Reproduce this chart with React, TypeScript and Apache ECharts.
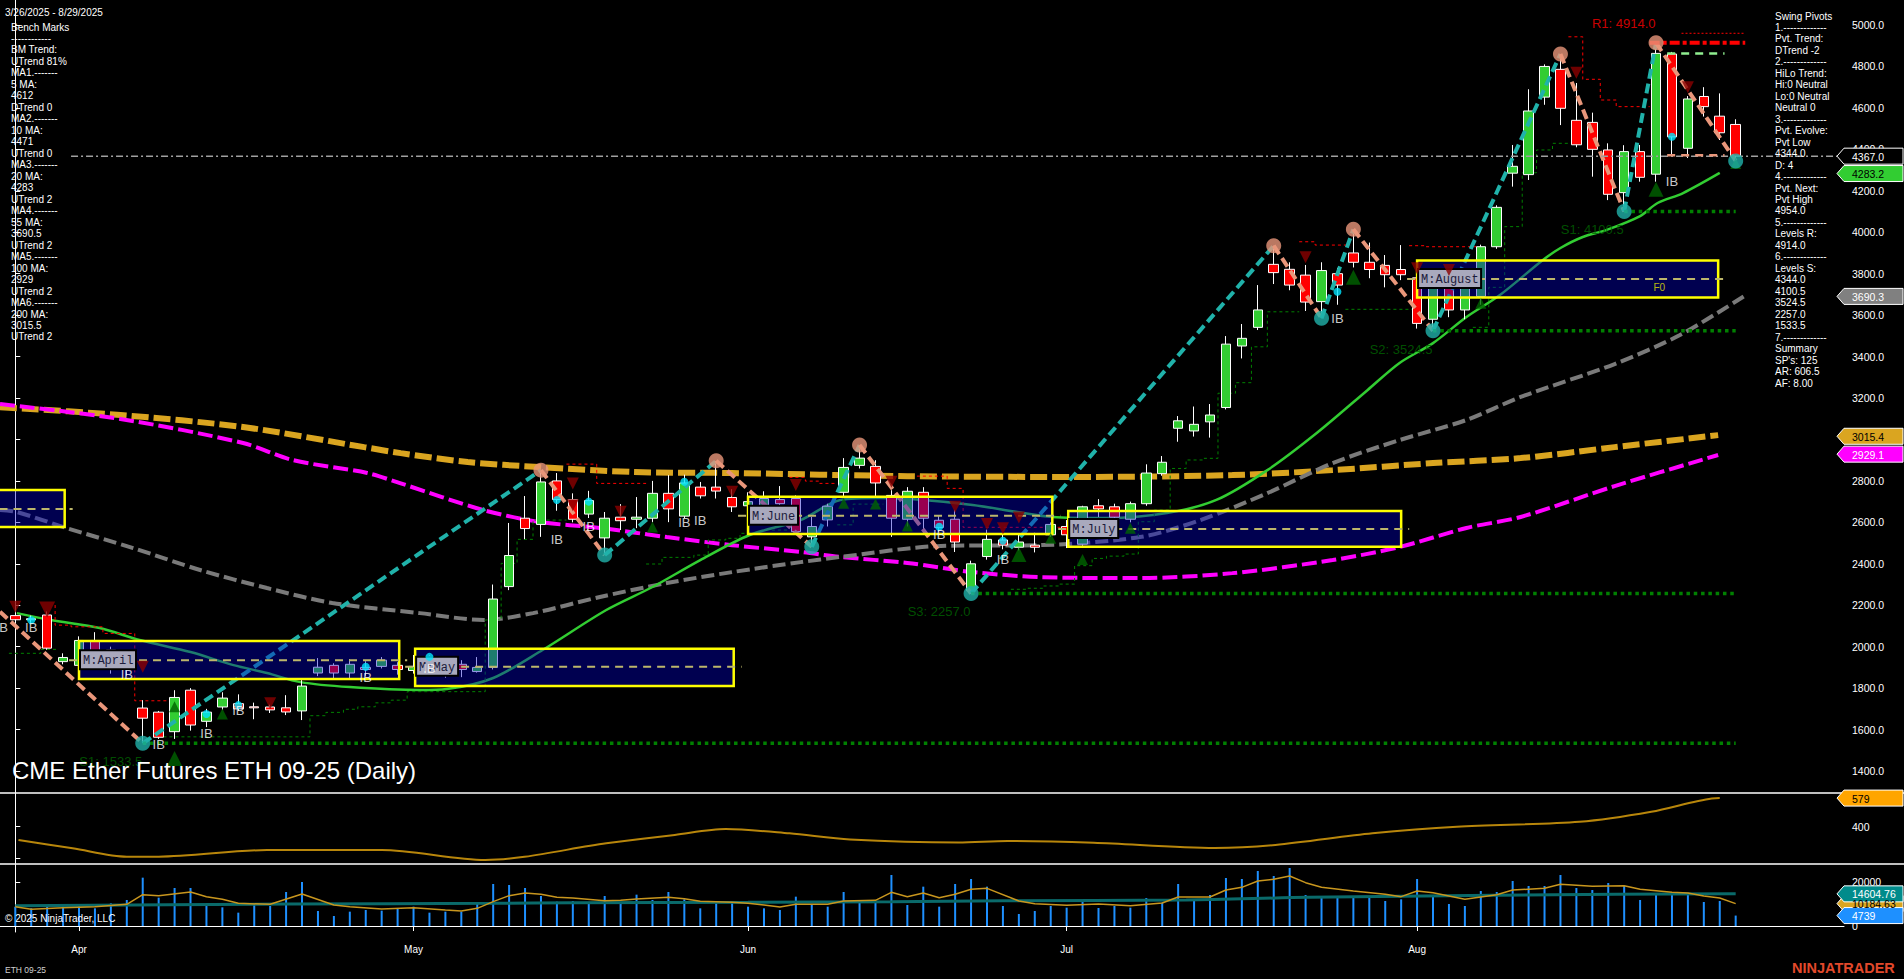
import React, { useEffect, useRef } from "react";
import * as echarts from "echarts";

// ---------- data ----------
const dates = [
  "03/26","03/27","03/28","03/31",
  "04/01","04/02","04/03","04/04","04/07","04/08","04/09","04/10","04/11","04/14","04/15","04/16","04/17","04/21","04/22","04/23","04/24","04/25","04/28","04/29","04/30",
  "05/01","05/02","05/05","05/06","05/07","05/08","05/09","05/12","05/13","05/14","05/15","05/16","05/19","05/20","05/21","05/22","05/23","05/27","05/28","05/29","05/30",
  "06/02","06/03","06/04","06/05","06/06","06/09","06/10","06/11","06/12","06/13","06/16","06/17","06/18","06/20","06/23","06/24","06/25","06/26","06/27","06/30",
  "07/01","07/02","07/03","07/07","07/08","07/09","07/10","07/11","07/14","07/15","07/16","07/17","07/18","07/21","07/22","07/23","07/24","07/25","07/28","07/29","07/30","07/31",
  "08/01","08/04","08/05","08/06","08/07","08/08","08/11","08/12","08/13","08/14","08/15","08/18","08/19","08/20","08/21","08/22","08/25","08/26","08/27","08/28","08/29"
];
const monthNames: Record<number, string> = { 4: "Apr", 5: "May", 6: "Jun", 7: "Jul", 8: "Aug" };

const opens = [2150,2130,2153,1928,1910,2030,1985,1900,1704,1684,1590,1790,1640,1709,1725,1710,1709,1705,1690,1873,1910,1873,1900,1905,1910,
  1885,1905,1890,1915,1880,1900,2290,2620,2590,2800,2710,2640,2525,2625,2615,2620,2740,2630,2770,2770,2720,
  2680,2655,2710,2715,2530,2612,2745,2875,2870,2730,2615,2745,2610,2615,2270,2435,2515,2480,2490,2540,
  2580,2495,2680,2675,2615,2690,2835,3054,3041,3085,3154,3451,3541,3845,3821,3793,3665,3800,3900,3855,3840,3820,
  3780,3580,3735,3625,3690,3930,4285,4278,4652,4786,4540,4530,4397,4191,4389,4280,4860,4405,4655,4560,4520];
const highs = [2170,2150,2170,1968,2050,2070,2000,1950,1742,1690,1790,1800,1700,1780,1770,1730,1720,1766,1839,1945,1920,1940,1930,1950,1925,
  1960,1960,1910,1935,1950,2300,2597,2727,2852,2838,2740,2752,2650,2688,2722,2800,2828,2830,2795,2895,2760,
  2745,2750,2775,2730,2626,2690,2910,2970,2900,2755,2770,2770,2630,2660,2415,2565,2550,2540,2550,2600,
  2611,2680,2712,2690,2700,2880,2920,3113,3159,3171,3499,3557,3745,3935,3855,3842,3855,3828,4010,3950,3890,3938,
  3800,3745,3760,3750,3940,4130,4421,4690,4810,4860,4720,4577,4429,4420,4421,4914,4870,4657,4700,4670,4545];
const lows = [2115,2115,1985,1915,1890,1930,1870,1860,1535,1555,1555,1595,1612,1694,1690,1650,1680,1670,1646,1858,1840,1840,1860,1895,1865,
  1870,1875,1850,1853,1875,1890,2273,2519,2530,2656,2600,2621,2450,2563,2572,2600,2601,2620,2715,2715,2650,
  2640,2640,2640,2540,2482,2580,2720,2860,2720,2530,2580,2550,2555,2457,2257,2420,2470,2465,2455,2530,
  2476,2480,2626,2600,2600,2680,2825,2989,3014,3009,3145,3391,3528,3750,3720,3620,3585,3650,3830,3778,3734,3769,
  3535,3525,3590,3580,3650,3920,4220,4252,4615,4517,4410,4268,4155,4100,4244,4244,4373,4358,4558,4445,4344];
const closes = [2130,2135,1993,1948,2030,1960,1900,1890,1655,1563,1755,1622,1684,1752,1700,1705,1695,1685,1810,1901,1873,1915,1890,1935,1890,
  1905,1890,1870,1890,1900,2230,2440,2570,2795,2710,2615,2705,2620,2608,2625,2740,2665,2790,2728,2751,2675,
  2700,2715,2690,2555,2580,2678,2865,2910,2790,2620,2750,2620,2575,2505,2400,2518,2490,2505,2480,2590,
  2540,2675,2665,2625,2690,2838,2890,3090,3073,3118,3460,3488,3625,3805,3745,3663,3815,3745,3855,3820,3795,3795,
  3560,3730,3625,3735,3930,4120,4318,4585,4800,4598,4422,4400,4183,4389,4265,4863,4460,4643,4606,4480,4367];
const volumes = [8790,8033,9093,9093,9548,8033,10305,11820,21970,12880,17274,17274,9093,8487,6063,10305,9093,15456,20001,6820,4548,6518,7275,6972,8033,
  8790,6063,6518,6518,10305,19092,18638,17274,13638,11063,11366,10305,13638,10305,14244,11820,15456,12123,8033,10305,10608,
  8790,8033,7275,13335,9850,8790,15456,11820,11366,23183,9548,17880,8790,19092,21364,17880,9093,5457,6820,9093,
  8337,11820,8184,9093,8337,12729,10608,19092,12275,14093,21819,21364,25000,22728,26364,14093,13638,13638,13032,12729,11366,12123,
  21364,13638,10002,9093,15910,15456,20456,18183,18183,23183,17274,16365,19547,18183,11820,14093,14547,14850,10911,11366,4739];

// moving averages etc: [bar index, value]
const ma20 = [[0.1,2162],[2.2,2129],[5.3,2090],[7.8,2032],[11,1974],[13.7,1911],[15.8,1873],[17.9,1829],[21,1805],[25.4,1791],[27.1,1796],[30,1849],[33.1,1984],[37.1,2177],[40,2288],[43,2418],[46.1,2539],[49.3,2611],[51.8,2708],[54.3,2717],[57,2708],[60.1,2684],[62.9,2650],[65.1,2626],[68.5,2621],[72.3,2645],[75.4,2708],[78.6,2852],[81.7,3031],[84.9,3239],[86.9,3369],[89,3465],[91.1,3591],[93.2,3697],[95.9,3866],[97,3924],[98.4,3977],[99.9,4011],[102,4078],[103.1,4141],[104.7,4189],[107,4286]];
const ma55 = [[-0.96,2660],[0.1,2650],[3.2,2573],[7.4,2476],[11.6,2370],[15.8,2283],[19.9,2211],[25.4,2162],[29.4,2129],[32.5,2162],[36.7,2240],[40.9,2307],[45,2360],[49.3,2408],[51.8,2433],[58.1,2486],[64.3,2490],[70.6,2529],[74.4,2611],[78.6,2741],[82.7,2886],[86.9,2997],[91.1,3094],[94.5,3205],[100.4,3364],[104.5,3504],[108.5,3690]];
const ma100 = [[-0.96,3171],[6.6,3099],[14.3,2983],[17.4,2901],[22.1,2838],[24.2,2788],[29.4,2659],[32.9,2602],[36.7,2573],[40.9,2529],[45,2490],[49.3,2457],[51.8,2433],[56,2404],[60.1,2360],[64.3,2336],[70.6,2331],[76.4,2355],[82.7,2418],[86.9,2481],[91.1,2573],[94.5,2626],[100.4,2775],[106.9,2925]];
const ma200 = [[-0.96,3156],[6.6,3118],[14.3,3060],[21.9,2963],[24.2,2934],[28.4,2891],[32.9,2867],[38.8,2843],[45,2838],[56,2823],[66.4,2819],[76.4,2828],[82.7,2852],[89,2886],[94.5,2910],[100.4,2963],[106.9,3021]];
const atr = [[0.2,315],[3.6,263],[7,210],[9,210],[15.8,252],[23,252],[29.5,189],[37.1,294],[41.4,347],[44.6,384],[48.6,357],[52.4,319],[59.2,300],[62.3,309],[67.7,298],[75.3,265],[79.1,284],[85.2,357],[90.5,399],[98.2,430],[102.7,493],[106.5,577],[107,579]];
const volFast = [[0,8790],[1,7578],[3,8337],[5,8790],[7,9850],[8,14244],[9,13790],[11,15456],[12,13335],[13,12123],[14,10305],[16,9850],[18,14547],[20,9548],[21,8790],[23,7730],[25,8337],[27,7275],[28,6820],[29,8033],[30,11063],[31,13790],[32,15002],[33,14397],[34,13032],[35,12729],[37,11517],[38,11669],[39,12275],[41,13032],[42,12426],[43,11214],[45,10760],[46,10305],[47,9548],[48,8639],[49,9850],[51,9850],[52,11366],[54,11669],[55,15305],[56,13335],[57,15002],[58,12880],[59,14397],[60,16668],[61,17123],[63,11366],[64,10154],[66,9396],[68,10002],[70,9245],[72,10457],[73,13184],[75,13184],[76,16365],[77,17577],[78,20456],[79,21213],[80,22728],[81,19698],[82,17577],[84,15910],[86,14397],[87,13335],[88,15910],[89,15153],[91,12123],[92,13184],[93,14244],[94,16365],[96,17123],[97,18941],[99,18032],[101,18335],[102,16668],[104,15305],[105,15002],[106,13638],[107,12729],[108,10185]];
const volSlow = [[0,9245],[17,10002],[30,10305],[35,10608],[46,10760],[55,11063],[62,11500],[73.5,11820],[81.2,13032],[92.8,13941],[100.5,14396],[108,14605]];

// swing pivots: [bar index, price, type]
const pivots: [number, number, string][] = [[-0.96,2169,"H"],[8,1533.5,"L"],[33,2852,"H"],[37,2442,"L"],[44,2897,"H"],[50,2482,"L"],[53,2973,"H"],[60,2257,"L"],[79,3935,"H"],[82,3585,"L"],[84,4014,"H"],[89,3524.5,"L"],[97,4860,"H"],[101,4100.5,"L"],[103,4914,"H"],[108,4344,"L"]];
const supportFrom = [8, 60, 89, 101];
const supportValues = [1533.5, 2257.0, 3524.5, 4100.5];
const supportNames = ["S1: 1533.5", "S3: 2257.0", "S2: 3524.5", "S1: 4100.5"];
const resistFrom = [103];
const resistValues = [4914.0];
const resistNames = ["R1: 4914.0"];

// monthly boxes
const boxStarts = [-3, 4, 25.1, 46, 66.1, 88];
const boxEnds = [3.1, 24.1, 45.1, 65.1, 87, 106.9];
const boxTops = [2756, 2027, 1990, 2724, 2655, 3863];
const boxBottoms = [2577, 1844, 1810, 2544, 2482, 3685];
const boxMids = [2664, 1935, 1903, 2632, 2568, 3774];
const boxLabels = ["", "M:April", "M:May", "M:June", "M:July", "M:August"];

const redSteps = [
  [[2.5,2201],[2.5,2104],[3.5,2104],[3.5,2096],[5.5,2096],[5.5,2064],[7.5,2064],[7.5,1739],[9.5,1739]],
  [[34.6,2881],[36.5,2881],[36.5,2788],[39.6,2788]],
  [[48.6,2817],[49.6,2817],[49.6,2799],[50.5,2799],[50.5,2788],[51.6,2788]],
  [[56.6,2823],[58.5,2823],[58.5,2764],[59.5,2764],[59.5,2576],[66,2576]],
  [[80.6,3954],[81.6,3954],[81.6,3938],[83.8,3938]],
  [[87.5,3935],[88.5,3935],[88.5,3930],[91.7,3930]],
  [[97.5,4943],[98.4,4943],[98.4,4738],[99.5,4738],[99.5,4638],[100.5,4638],[100.5,4606],[102.6,4606]]
];
const greenSteps = [
  [[-0.4,1968],[1.6,1968],[1.6,1987],[2.6,1987]],
  [[9.3,1565],[18.5,1565],[18.5,1667],[19.5,1667],[19.5,1683],[20.6,1683],[20.6,1698],[21.5,1698],[21.5,1710],[22.6,1710],[22.6,1729],[23.6,1729],[23.6,1742],[24.6,1742],[24.6,1783],[29.5,1783],[29.5,2129],[30.5,2129],[30.5,2402],[31.5,2402],[31.5,2518],[32.5,2518],[32.5,2611],[34.6,2611]],
  [[39.6,2399],[40.6,2399],[40.6,2431],[42.6,2431],[42.6,2442],[43.5,2442],[43.5,2515],[44.6,2515],[44.6,2523],[45.5,2523],[45.5,2547],[46.4,2547]],
  [[47.5,2563],[48.5,2563]],
  [[51.6,2588],[52.6,2588],[52.6,2688],[54.5,2688]],
  [[62.5,2277],[63.5,2277],[63.5,2282],[64.5,2282],[64.5,2293],[65.5,2293],[65.5,2302],[66.5,2302],[66.5,2391],[67.6,2391],[67.6,2426],[68.5,2426],[68.5,2437],[69.6,2437],[69.6,2447],[70.5,2447],[70.5,2603],[71.5,2603],[71.5,2659],[72.5,2659],[72.5,2860],[73.5,2860],[73.5,2901],[74.6,2901],[74.6,2909],[75.5,2909],[75.5,3223],[76.6,3223],[76.6,3274],[77.6,3274],[77.6,3447],[78.6,3447],[78.6,3616],[80.6,3616]],
  [[83.5,3628],[88.3,3628]],
  [[91.5,3541],[92.5,3541],[92.5,3734],[93.5,3734],[93.5,4027],[94.6,4027],[94.6,4287],[95.5,4287],[95.5,4397],[96.5,4397],[96.5,4429],[97.6,4429]]
];
const downMarks = [[0,2193],[2,2179],[8,1903],[16,1727],[35,2788],[35,2683],[38,2651],[45,2748],[49,2780],[55,2796],[59,2675],[61,2592],[62,2571],[63,2624],[81,3879],[88,3826],[90,3818],[98,4770],[105,4700]];
const upMarks = [[10,1461],[10,1710],[13,1675],[40,2577],[52,2692],[54,2688],[56,2582],[63,2445],[65,2523],[67,2421],[70,2571],[84,3783],[92,3657],[103,4207],[108,4332]];
const cyanDots = [[1,2128],[12,1675],[14,1718],[22,1903],[26,1951],[34,2708],[36,2700],[42,2796],[58,2579],[62,2511],[83,3713],[104,4461]];
const ibMarks = [[-0.85,2095],[1,2095],[7,1868],[9,1530],[12,1583],[14,1694],[22,1849],[26,1897],[34,2519],[36,2582],[42,2597],[43,2611],[58,2539],[62,2423],[83,3586],[104,4244]];

const priceTicks = [1400,1600,1800,2000,2200,2400,2600,2800,3000,3200,3400,3600,3800,4000,4200,4400,4600,4800,5000];
const atrTicks = [200, 400];
const atrLabels = [400];
const volTicks = [0, 20000];

const leftLines = ["Bench Marks","------------","BM Trend:","UTrend 81%","MA1.-------","5 MA:","4612","DTrend 0","MA2.-------","10 MA:","4471","UTrend 0","MA3.-------","20 MA:","4283","UTrend 2","MA4.-------","55 MA:","3690.5","UTrend 2","MA5.-------","100 MA:","2929","UTrend 2","MA6.-------","200 MA:","3015.5","UTrend 2"];
const rightLines = ["Swing Pivots","1.-------------","Pvt. Trend:","DTrend -2","2.-------------","HiLo Trend:","Hi:0 Neutral","Lo:0 Neutral","Neutral 0","3.-------------","Pvt. Evolve:","Pvt Low","4344.0","D: 4","4.-------------","Pvt. Next:","Pvt High","4954.0","5.-------------","Levels R:","4914.0","6.-------------","Levels S:","4344.0","4100.5","3524.5","2257.0","1533.5","7.-------------","Summary","SP's: 125","AR: 606.5","AF: 8.00"];

// ---------- layout constants ----------
const W = 1904, H = 979;
const AXIS_X = 1844;
const X_MIN = -0.96, X_MAX = 114.8;
const FONT = '"Liberation Sans", Arial, sans-serif';

export default function App() {
  const ref = useRef<HTMLDivElement>(null);
  useEffect(() => {
    document.body.style.margin = "0";
    document.body.style.background = "#000";
    const chart = echarts.init(ref.current!, null, { renderer: "svg" });

    const monthStarts: number[] = [];
    dates.forEach((d, i) => {
      if (i > 0 && d.slice(0, 2) !== dates[i - 1].slice(0, 2)) monthStarts.push(i);
    });

    const xBase = (gi: number, show: boolean) => ({
      type: "value", gridIndex: gi, min: X_MIN, max: X_MAX,
      splitLine: { show: false },
      axisLine: { show: show, lineStyle: { color: "#fff", width: 1 } },
      axisTick: show ? { show: true, customValues: monthStarts, length: 5, lineStyle: { color: "#fff" } } : { show: false },
      axisLabel: show ? {
        show: true, customValues: monthStarts, color: "#fff", fontSize: 10, fontFamily: FONT, margin: 12,
        formatter: (v: number) => monthNames[parseInt(dates[Math.round(v)].slice(0, 2), 10)] || ""
      } : { show: false },
    });
    const yBase = (gi: number, min: number, max: number, ticks: number[], labels: number[], fmt: (v: number) => string) => ({
      type: "value", gridIndex: gi, position: "right", min, max,
      splitLine: { show: false },
      axisLine: { show: true, lineStyle: { color: "#fff", width: 1 } },
      axisTick: { show: true, customValues: ticks, length: 5, lineStyle: { color: "#fff" } },
      axisLabel: { show: true, customValues: labels, color: "#fff", fontSize: 10.5, fontFamily: FONT, margin: 8, formatter: fmt },
    });

    const line = (data: number[][], color: string, width: number, dash: any, z: number, xi = 0, extra: any = {}) => ({
      type: "line", xAxisIndex: xi, yAxisIndex: xi, data, showSymbol: false, symbol: "none", silent: true,
      lineStyle: { color, width, type: dash, cap: "butt" }, z, ...extra,
    });

    const series: any[] = [];
    series.push(line(ma200, "#daa520", 6, [17, 5], 2, 0, { smooth: 0.3 }));
    series.push(line(ma100, "#ff00ff", 4, [15, 5], 2, 0, { smooth: 0.3 }));
    series.push(line(ma55, "#7a7a7a", 4, [13, 5], 2, 0, { smooth: 0.3 }));
    series.push(line(ma20, "#32cd32", 2.5, "solid", 2, 0, { smooth: 0.3 }));
    redSteps.forEach((s) => series.push(line(s, "#ff0000", 1, [3, 3], 2)));
    greenSteps.forEach((s) => series.push(line(s, "#008000", 1, [3, 3], 2)));
    series.push({
      type: "candlestick", xAxisIndex: 0, yAxisIndex: 0, z: 3, barWidth: 10, silent: true,
      encode: { x: 0, y: [1, 2, 3, 4] },
      data: dates.map((_, i) => [i, opens[i], closes[i], lows[i], highs[i]]),
      itemStyle: { color: "#32cd32", color0: "#ff0000", borderColor: "#ffffff", borderColor0: "#ffffff", borderWidth: 1 },
    });
    for (let k = 0; k < pivots.length - 1; k++) {
      const a = pivots[k], b = pivots[k + 1];
      const col = a[2] === "L" ? "#20b2aa" : "#e9967a";
      series.push(line([[a[0], a[1]], [b[0], b[1]]], col, 4, [10, 5], 4));
    }
    series.push(line([[3.5, closes[closes.length - 1]], [X_MAX, closes[closes.length - 1]]], "#a0a0a0", 1.5, [7, 3, 2, 3], 5));
    supportValues.forEach((v, k) => series.push(line([[supportFrom[k], v], [dates.length - 1, v]], "#008000", 3.5, [3.5, 3.8], 5)));
    resistValues.forEach((v, k) => series.push(line([[resistFrom[k] - 0.4, v], [dates.length - 0.4, v]], "#ff0000", 4, [10, 3, 4, 3], 5)));
    series.push(line([[104.6, 4960], [108.5, 4960]], "#ff0000", 1, [2, 2], 5));
    series.push(line([[103.7, 4863], [107.3, 4863]], "#90ee90", 2.5, [8, 6], 5));
    series.push(line([[103.7, 4372], [107.3, 4372]], "#e9967a", 2.5, [8, 6], 5));

    series.push({
      type: "custom", xAxisIndex: 0, yAxisIndex: 0, z: 6, silent: true, clip: false,
      data: boxStarts.map((s, k) => [s, boxEnds[k], boxTops[k], boxBottoms[k], boxMids[k]]),
      encode: { x: [0, 1], y: [2, 3, 4] },
      renderItem: (params: any, api: any) => {
        const s = api.value(0), e = api.value(1), t = api.value(2), b = api.value(3), m = api.value(4);
        const p1 = api.coord([s, t]);
        const p2 = api.coord([e, b]);
        const pm = api.coord([s, m]);
        const lbl = boxLabels[params.dataIndex];
        const children: any[] = [
          { type: "rect", shape: { x: p1[0], y: p1[1], width: p2[0] - p1[0], height: p2[1] - p1[1] },
            style: { fill: "rgba(0,0,200,0.4)", stroke: "#ffff00", lineWidth: 2.5 } },
          { type: "line", shape: { x1: p1[0] - 10, y1: pm[1], x2: p2[0] + 8, y2: pm[1] },
            style: { stroke: "#bdb76b", lineWidth: 2, lineDash: [8, 6] } },
        ];
        if (lbl) {
          const w = lbl.length * 7 + 7;
          children.push({ type: "rect", shape: { x: p1[0] + 1, y: pm[1] - 10, width: w, height: 19 },
            style: { fill: "#a9a9bd", stroke: "#000", lineWidth: 2 } });
          children.push({ type: "text", style: { text: lbl, x: p1[0] + 4, y: pm[1] + 1, verticalAlign: "middle",
            fill: "#1c1c3c", fontSize: 12, fontFamily: '"Liberation Mono", monospace' } });
        }
        return { type: "group", children };
      },
    });

    series.push({ type: "scatter", xAxisIndex: 0, yAxisIndex: 0, z: 7, silent: true, data: downMarks,
      symbol: "triangle", symbolRotate: 180, symbolSize: (v: number[]) => (v[0] === 2 ? 16 : 12), itemStyle: { color: "#8b0000" } });
    series.push({ type: "scatter", xAxisIndex: 0, yAxisIndex: 0, z: 7, silent: true, data: upMarks,
      symbol: "triangle", symbolSize: (v: number[]) => (v[0] === 10 && v[1] < 1500) || v[0] === 63 || v[0] === 84 || v[0] === 103 ? 15 : 11,
      itemStyle: { color: "#006400" } });
    series.push({ type: "scatter", xAxisIndex: 0, yAxisIndex: 0, z: 7, silent: true, data: cyanDots,
      symbolSize: 8, itemStyle: { color: "#00e5ff" } });
    series.push({ type: "scatter", xAxisIndex: 0, yAxisIndex: 0, z: 8, silent: true, data: ibMarks,
      symbolSize: 1, itemStyle: { color: "rgba(0,0,0,0)" },
      label: { show: true, formatter: "IB", position: "inside", color: "#fff", fontSize: 13, fontFamily: FONT } });
    series.push({ type: "scatter", xAxisIndex: 0, yAxisIndex: 0, z: 7, silent: true,
      data: pivots.filter((p) => p[0] >= 0 && p[2] === "H").map((p) => [p[0], p[1]]),
      symbolSize: 15, itemStyle: { color: "#e9967a" } });
    series.push({ type: "scatter", xAxisIndex: 0, yAxisIndex: 0, z: 7, silent: true,
      data: pivots.filter((p) => p[0] >= 0 && p[2] === "L").map((p) => [p[0], p[1]]),
      symbolSize: 15, itemStyle: { color: "#20b2aa" } });
    series.push({ type: "scatter", xAxisIndex: 0, yAxisIndex: 0, z: 8, silent: true,
      data: supportValues.map((v, k) => [supportFrom[k], v]), symbolSize: 1, itemStyle: { color: "rgba(0,0,0,0)" },
      label: { show: true, formatter: (p: any) => supportNames[p.dataIndex], position: [0, 19], align: "right",
        verticalAlign: "middle", color: "#006400", fontSize: 13, fontFamily: FONT } });
    series.push({ type: "scatter", xAxisIndex: 0, yAxisIndex: 0, z: 8, silent: true,
      data: resistValues.map((v, k) => [resistFrom[k], v]), symbolSize: 1, itemStyle: { color: "rgba(0,0,0,0)" },
      label: { show: true, formatter: (p: any) => resistNames[p.dataIndex], position: [0, -19], align: "right",
        verticalAlign: "middle", color: "#ff0000", fontSize: 13, fontFamily: FONT } });
    series.push({ type: "scatter", xAxisIndex: 0, yAxisIndex: 0, z: 8, silent: true,
      data: [[103.2, 3731]], symbolSize: 1, itemStyle: { color: "rgba(0,0,0,0)" },
      label: { show: true, formatter: "F0", position: "inside", color: "#e6e600", fontSize: 10, fontFamily: FONT } });

    series.push(line(atr, "#b8860b", 2, "solid", 3, 1, { smooth: 0.3 }));
    series.push({ type: "bar", xAxisIndex: 2, yAxisIndex: 2, z: 2, silent: true, barWidth: 2,
      data: volumes.map((v, i) => [i, v]), itemStyle: { color: "#1e90ff" } });
    series.push(line(volSlow, "#0a6a6a", 3, "solid", 3, 2, { smooth: 0.3 }));
    series.push(line(volFast, "#c8961e", 1.5, "solid", 4, 2));

    const option: any = {
      backgroundColor: "#000",
      animation: false,
      textStyle: { fontFamily: FONT },
      grid: [
        { left: 0, width: AXIS_X, top: 0, height: 793, outerBoundsMode: "none" },
        { left: 0, width: AXIS_X, top: 793, height: 71, outerBoundsMode: "none" },
        { left: 0, width: AXIS_X, top: 864, height: 68, outerBoundsMode: "none" },
      ],
      xAxis: [xBase(0, false), xBase(1, false), xBase(2, true)],
      yAxis: [
        yBase(0, 1294, 5120.6, priceTicks, priceTicks, (v) => v.toFixed(1)),
        yBase(1, 164, 611, atrTicks, atrLabels, (v) => String(v)),
        yBase(2, -2727, 28182, volTicks, volTicks, (v) => String(v)),
      ],
      series,
    };
    chart.setOption(option);

    const g: any[] = [];
    const txt = (text: string, x: number, y: number, size: number, fill = "#fff", extra: any = {}) => ({
      type: "text", silent: true, z: 100,
      style: { text, x, y, fill, fontSize: size, fontFamily: FONT, verticalAlign: "middle", ...extra },
    });
    g.push({ type: "line", silent: true, z: 90, shape: { x1: 0, y1: 793, x2: W, y2: 793 }, style: { stroke: "#fff", lineWidth: 1.5 } });
    g.push({ type: "line", silent: true, z: 90, shape: { x1: 0, y1: 864, x2: W, y2: 864 }, style: { stroke: "#fff", lineWidth: 1.5 } });
    g.push(txt(`${dates[0].replace(/^0/, "")}/2025 - ${dates[dates.length - 1].replace(/^0/, "")}/2025`, 5, 12, 10));
    leftLines.forEach((l, k) => g.push(txt(l, 11, 27 + k * 11.48, 10)));
    rightLines.forEach((l, k) => g.push(txt(l, 1775, 16 + k * 11.47, 10)));
    g.push(txt("CME Ether Futures ETH 09-25 (Daily)", 12, 770, 24));
    g.push(txt("\u00a9 2025 NinjaTrader, LLC", 5, 918, 10));
    g.push(txt("ETH 09-25", 5, 970, 8.5, "#d0d0d0"));
    g.push(txt("NINJATRADER", 1792, 968, 14.5, "#e2492b", { fontWeight: "bold" }));

    const tag = (axis: number, value: number, label: string, fill: string, color: string) => {
      const y = chart.convertToPixel({ yAxisIndex: axis } as any, value) as unknown as number;
      g.push({ type: "polygon", silent: true, z: 95,
        shape: { points: [[1837, y], [1844, y - 8], [1903, y - 8], [1903, y + 8], [1844, y + 8]] },
        style: { fill, stroke: "#fff", lineWidth: 1 } });
      g.push({ ...txt(label, 1852, y + 0.5, 10.5, color), z: 96 });
    };
    tag(0, closes[closes.length - 1], closes[closes.length - 1].toFixed(1), "#000", "#fff");
    tag(0, 4283.2, "4283.2", "#32cd32", "#000");
    tag(0, 3690.3, "3690.3", "#808080", "#fff");
    tag(0, 3015.4, "3015.4", "#daa520", "#000");
    tag(0, 2929.1, "2929.1", "#ff00ff", "#fff");
    tag(1, 579, "579", "#ffa500", "#000");
    tag(2, 10184.63, "10184.63", "#daa520", "#000");
    tag(2, 14604.76, "14604.76", "#008b8b", "#fff");
    tag(2, volumes[volumes.length - 1], String(volumes[volumes.length - 1]), "#1e90ff", "#fff");

    chart.setOption({ graphic: g });
    return () => chart.dispose();
  }, []);
  return <div ref={ref} style={{ position: "fixed", left: 0, top: 0, width: W, height: H, background: "#000" }} />;
}
